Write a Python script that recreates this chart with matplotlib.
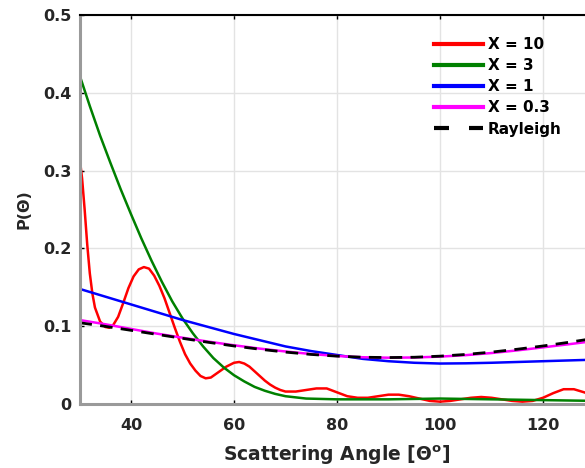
import numpy as np
import matplotlib.pyplot as plt

# --- data ---
theta_x10 = [30, 30.5, 31, 31.5, 32, 32.5, 33, 34, 35, 35.8, 36.5, 37.5, 38.5, 39.5, 40.5,
             41.5, 42.5, 43.5, 44.5, 45.5, 46.5, 47.5, 48.5, 49.5, 50.5, 51.5, 52.5, 53.5,
             54.5, 55.5, 57, 58.5, 60, 61, 62, 63, 64, 65, 66, 67, 68, 69, 70, 72, 74, 76,
             78, 80, 82, 84, 86, 88, 90, 92, 94, 96, 98, 100, 102, 104, 106, 108, 110, 112,
             114, 116, 118, 120, 122, 124, 126, 128, 130]
p_x10 = [0.318, 0.29, 0.25, 0.205, 0.168, 0.142, 0.124, 0.106, 0.099, 0.098, 0.101, 0.112,
         0.130, 0.149, 0.164, 0.173, 0.176, 0.174, 0.165, 0.152, 0.136, 0.117, 0.098, 0.080,
         0.064, 0.052, 0.043, 0.036, 0.033, 0.034, 0.041, 0.048, 0.053, 0.054, 0.052, 0.048,
         0.042, 0.036, 0.030, 0.025, 0.021, 0.018, 0.016, 0.016, 0.018, 0.020, 0.020, 0.015,
         0.010, 0.008, 0.008, 0.010, 0.012, 0.012, 0.010, 0.007, 0.004, 0.003, 0.004, 0.006,
         0.008, 0.009, 0.008, 0.006, 0.004, 0.003, 0.004, 0.008, 0.014, 0.019, 0.019, 0.015,
         0.010]

theta_x3 = [30, 32, 34, 36, 38, 40, 42, 44, 46, 48, 50, 52, 54, 56, 58, 60, 62, 64, 66, 68,
            70, 74, 80, 90, 100, 110, 120, 130]
p_x3 = [0.423, 0.383, 0.345, 0.31, 0.276, 0.244, 0.213, 0.184, 0.157, 0.132, 0.11, 0.091,
        0.074, 0.059, 0.047, 0.037, 0.029, 0.022, 0.017, 0.013, 0.010, 0.007, 0.006, 0.006,
        0.007, 0.006, 0.005, 0.004]

theta_x1 = [30, 35, 40, 45, 50, 55, 60, 65, 70, 75, 80, 85, 90, 95, 100, 105, 110, 115, 120,
            125, 130]
p_x1 = [0.148, 0.138, 0.128, 0.118, 0.108, 0.099, 0.090, 0.082, 0.074, 0.068, 0.063, 0.058,
        0.055, 0.053, 0.052, 0.0523, 0.053, 0.054, 0.055, 0.056, 0.057]

theta_x03 = [30, 35, 40, 45, 50, 55, 60, 65, 70, 75, 80, 85, 90, 95, 100, 105, 110, 115, 120,
             125, 130]
p_x03 = [0.108, 0.1025, 0.0965, 0.0905, 0.0852, 0.0802, 0.0755, 0.0712, 0.0675, 0.0642,
         0.0617, 0.0601, 0.0595, 0.0598, 0.0609, 0.0628, 0.0655, 0.0689, 0.0728, 0.0768,
         0.081]

theta_ray = [30, 35, 40, 45, 50, 55, 60, 65, 70, 75, 80, 85, 90, 95, 100, 105, 110, 115, 120,
             125, 130]
p_ray = [0.1045, 0.0998, 0.0947, 0.0895, 0.0844, 0.0793, 0.0746, 0.0704, 0.0667, 0.0637,
         0.0615, 0.0601, 0.0597, 0.0601, 0.0615, 0.0637, 0.0667, 0.0704, 0.0746, 0.0793,
         0.0844]

series = [
    (theta_x10, p_x10, 'X = 10', '#ff0000'),
    (theta_x3, p_x3, 'X = 3', '#008000'),
    (theta_x1, p_x1, 'X = 1', '#0000ff'),
    (theta_x03, p_x03, 'X = 0.3', '#ff00ff'),
]

x_ticks = [40, 60, 80, 100, 120]
y_ticks = [0, 0.1, 0.2, 0.3, 0.4, 0.5]
y_tick_labels = ['0', '0.1', '0.2', '0.3', '0.4', '0.5']

fig = plt.figure(figsize=(5.85, 4.68), dpi=100)
# axes run past the right edge of the picture (reference is cropped)
ax = fig.add_axes([79.5 / 585, 64 / 468, 772.5 / 585, 389 / 468])

for th, p, lab, col in series:
    ax.plot(th, p, color=col, lw=1.8, label=lab)
ax.plot(theta_ray, p_ray, color='black', lw=2.0, dashes=(4.5, 3), label='Rayleigh')

ax.set_xlim(30, 180)
ax.set_ylim(0, 0.5)
ax.set_xticks(x_ticks)
ax.set_yticks(y_ticks)
ax.set_yticklabels(y_tick_labels)
ax.grid(True, color='#e3e3e3', lw=1.0)
ax.set_axisbelow(True)

ax.tick_params(direction='in', length=3, width=1, top=True, right=False,
               labelsize=11.5, labelcolor='#262626')
ax.tick_params(axis='x', pad=10)
ax.tick_params(axis='y', pad=6)
for lab in ax.get_xticklabels() + ax.get_yticklabels():
    lab.set_fontweight('bold')

for side in ['left', 'bottom']:
    ax.spines[side].set_color('#9a9a9a')
    ax.spines[side].set_linewidth(2.2)
ax.spines['top'].set_color('black')
ax.spines['top'].set_linewidth(1.5)
ax.spines['right'].set_visible(False)

ax.set_xlabel('Scattering Angle [Θ$^{\\mathbf{o}}$]', fontsize=13.5, fontweight='bold',
              color='#262626')
ax.xaxis.set_label_coords((337 - 79.5) / 772.5, -40 / 389)
ax.set_ylabel('P(Θ)', fontsize=11.5, fontweight='bold', color='#262626')
ax.yaxis.set_label_coords(-48.5 / 772.5, 0.5)

leg = ax.legend(loc='upper left', bbox_to_anchor=(428 / 585, 1 - 31 / 468),
                bbox_transform=fig.transFigure, frameon=False, handlelength=3.2,
                handletextpad=0.3, labelspacing=0.4, borderaxespad=0,
                prop={'weight': 'bold', 'size': 11})
for line in leg.get_lines():
    line.set_linewidth(3.0)
leg.get_lines()[-1].set_dashes((3.6, 4.8))

fig.savefig('out.png', dpi=100)
